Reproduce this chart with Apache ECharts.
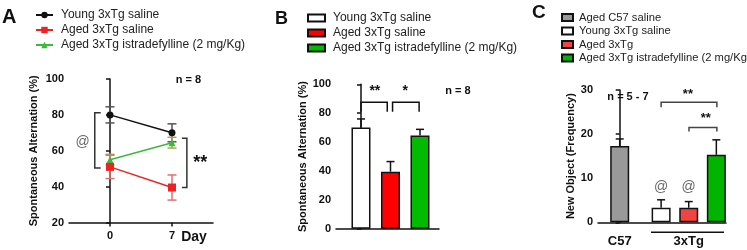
<!DOCTYPE html>
<html>
<head>
<meta charset="utf-8">
<script src="https://cdn.jsdelivr.net/npm/echarts@6/dist/echarts.min.js"></script>
<style>
  html, body { margin: 0; padding: 0; background: #fff; }
  #chart { width: 747px; height: 250px; }
</style>
</head>
<body>
<div id="chart"></div>
<script>
// ---- panel A: Y-maze over days ----
const daysA = [0, 7]
const youngA = [80, 70]
const youngAErr = [4.5, 5]
const agedA = [51, 39.5]
const agedAErr = [6.5, 7]
const istraA = [55, 64.5]
const istraAErr = [3, 3]

// ---- panel B: Y-maze day 7 ----
const groupsB = ['Young 3xTg saline', 'Aged 3xTg saline', 'Aged 3xTg istradefylline (2 mg/Kg)']
const meansB = [70, 39.5, 64.5]
const errB = [6, 7, 4.3]

// ---- panel C: new object ----
const groupsC = ['Aged C57 saline', 'Young 3xTg saline', 'Aged 3xTg', 'Aged 3xTg istradefylline (2 mg/Kg)']
const posC = [0, 1.5, 2.5, 3.5]
const meansC = [17.3, 3.3, 3.3, 15.3]
const errC = [1.6, 1.8, 1.4, 3.4]
const tickLabelsC = ['C57', '3xTg']

// significance brackets, in data units
// A: [x, yFrom, yTo, tickLen]
const bracketsA = [[-1.72, 50.4, 81.2, 0.67], [8.68, 39.5, 66.9, -0.56]]
// B / C: [xFrom, xTo, yTop, legLen]
const bracketsB = [[0, 0.89, 87.5, 6.5], [1.07, 1.97, 87.5, 6.5]]
const bracketsC = [[1.5, 3.52, 27.2, 1.1], [2.51, 3.52, 21.5, 0.9]]
// annotation marks: [x, y] + text
const marksA = [[-3.1, 64.8], [10.2, 53]]
const marksAText = ['@', '**']
const marksB = [[0.47, 95], [1.5, 95]]
const marksBText = ['**', '*']
const marksC = [[2.47, 29.1], [3.12, 23.5], [1.5, 7.9], [2.5, 7.9]]
const marksCText = ['**', '**', '@', '@']

const FONT = 'Arial, "Liberation Sans", sans-serif'
const INK = '#111'

const legendNames = {
  aY: 'Young 3xTg saline', aA: 'Aged 3xTg saline', aI: 'Aged 3xTg istradefylline (2 mg/Kg)',
  b0: groupsB[0], b1: groupsB[1], b2: groupsB[2],
  c0: groupsC[0], c1: groupsC[1], c2: groupsC[2], c3: groupsC[3]
}

const chart = echarts.init(document.getElementById('chart'), null, { renderer: 'canvas' })

// 误差线
function errRender(vals, errs, xs, upOnly, color, cap) {
  return (params, api) => {
    const i = params.dataIndex
    const x = xs[i]
    const top = api.coord([x, vals[i] + errs[i]])
    const bot = api.coord([x, upOnly ? vals[i] : vals[i] - errs[i]])
    const st = { stroke: color, lineWidth: 1.5 }
    const children = [
      { type: 'line', shape: { x1: top[0], y1: top[1], x2: bot[0], y2: bot[1] }, style: st },
      { type: 'line', shape: { x1: top[0] - cap, y1: top[1], x2: top[0] + cap, y2: top[1] }, style: st }
    ]
    if (!upOnly) {
      children.push({ type: 'line', shape: { x1: bot[0] - cap, y1: bot[1], x2: bot[0] + cap, y2: bot[1] }, style: st })
    }
    return { type: 'group', children }
  }
}

function errSeries(name, gi, vals, errs, xs, upOnly, color, cap, z) {
  return {
    type: 'custom', name, xAxisIndex: gi, yAxisIndex: gi, z,
    data: vals.map((v, i) => [xs[i], v]),
    renderItem: errRender(vals, errs, xs, upOnly, color, cap),
    silent: true
  }
}

function vBracketSeries(gi, list, color) {
  return {
    type: 'custom', xAxisIndex: gi, yAxisIndex: gi, z: 5, silent: true,
    data: list.map(b => [b[0], b[1]]),
    renderItem: (params, api) => {
      const b = list[params.dataIndex]
      const p0 = api.coord([b[0], b[1]])
      const p1 = api.coord([b[0], b[2]])
      const t = api.coord([b[0] + b[3], b[1]])[0]
      const st = { stroke: color, lineWidth: 1.5, fill: null }
      return {
        type: 'polyline',
        shape: { points: [[t, p0[1]], [p0[0], p0[1]], [p1[0], p1[1]], [t, p1[1]]] },
        style: st
      }
    }
  }
}

function hBracketSeries(gi, list, color) {
  return {
    type: 'custom', xAxisIndex: gi, yAxisIndex: gi, z: 5, silent: true,
    data: list.map(b => [b[0], b[2]]),
    renderItem: (params, api) => {
      const b = list[params.dataIndex]
      const p0 = api.coord([b[0], b[2]])
      const p1 = api.coord([b[1], b[2]])
      const yl = api.coord([b[0], b[2] - b[3]])[1]
      return {
        type: 'polyline',
        shape: { points: [[p0[0], yl], [p0[0], p0[1]], [p1[0], p1[1]], [p1[0], yl]] },
        style: { stroke: color, lineWidth: 1.5, fill: null }
      }
    }
  }
}

function markSeries(gi, list, texts, starSize) {
  return {
    type: 'custom', xAxisIndex: gi, yAxisIndex: gi, z: 6, silent: true,
    data: list,
    renderItem: (params, api) => {
      const p = api.coord(list[params.dataIndex])
      const txt = texts[params.dataIndex]
      const isAt = txt === '@'
      return {
        type: 'text', x: p[0], y: p[1],
        style: {
          text: txt, align: 'center', verticalAlign: 'middle',
          font: (isAt ? 'normal 14px ' : 'bold ' + starSize + 'px ') + FONT,
          fill: isAt ? '#666' : INK
        }
      }
    }
  }
}

const yAxisBase = (gi, min, max, interval, name, gap) => ({
  type: 'value', gridIndex: gi, min, max, interval,
  name, nameLocation: 'middle', nameGap: gap,
  nameTextStyle: { fontFamily: FONT, fontWeight: 'bold', fontSize: 11, color: INK },
  axisLine: { show: true, lineStyle: { color: INK, width: 1.5 } },
  axisTick: { show: true, length: 4, lineStyle: { color: INK, width: 1.5 } },
  axisLabel: { fontFamily: FONT, fontWeight: 'bold', fontSize: 11, color: INK, margin: 5 },
  splitLine: { show: false }
})

const option = {
  backgroundColor: '#fff',
  animation: false,
  textStyle: { fontFamily: FONT },
  grid: [
    { left: 69, top: 79, width: 144, height: 143.5 },
    { left: 336, top: 84.3, width: 103, height: 144.4 },
    { left: 598, top: 90, width: 128, height: 132.3 }
  ],
  xAxis: [
    {
      type: 'value', gridIndex: 0, min: -4.63, max: 11.63,
      axisLine: { lineStyle: { color: INK, width: 1.5 } },
      axisTick: { show: true, customValues: daysA, length: 4, lineStyle: { color: INK, width: 1.5 } },
      axisLabel: { customValues: daysA, fontFamily: FONT, fontWeight: 'bold', fontSize: 11, color: INK, margin: 8 },
      splitLine: { show: false }
    },
    {
      type: 'value', gridIndex: 1, min: -0.847, max: 2.644,
      axisLine: { lineStyle: { color: INK, width: 1.5 } },
      axisTick: { show: false }, axisLabel: { show: false }, splitLine: { show: false }
    },
    {
      type: 'value', gridIndex: 2, min: -0.786, max: 3.85,
      axisLine: { lineStyle: { color: INK, width: 1.5 } },
      axisTick: { show: false },
      axisLabel: {
        customValues: [0, 2.5],
        formatter: (v) => (v === 0 ? tickLabelsC[0] : tickLabelsC[1]),
        fontFamily: FONT, fontWeight: 'bold', fontSize: 13, color: INK, margin: 13
      },
      splitLine: { show: false }
    }
  ],
  yAxis: [
    yAxisBase(0, 20, 100, 20, 'Spontaneous Alternation (%)', 30),
    yAxisBase(1, 0, 100, 20, 'Spontaneous Alternation (%)', 23),
    yAxisBase(2, 0, 30, 10, 'New Object (Frequency)', 21.5)
  ],
  legend: [
    {
      left: 35, top: 8, orient: 'vertical', padding: 0, itemGap: 1,
      itemWidth: 17, itemHeight: 8,
      data: ['aY', 'aA', 'aI'],
      formatter: (n) => legendNames[n],
      textStyle: { fontFamily: FONT, fontSize: 12, color: '#222', lineHeight: 14, padding: [0, 0, 0, 3] },
      selectedMode: false
    },
    {
      left: 307, top: 11, orient: 'vertical', padding: 0, itemGap: 1,
      itemWidth: 17, itemHeight: 7, icon: 'rect',
      data: ['b0', 'b1', 'b2'],
      formatter: (n) => legendNames[n],
      textStyle: { fontFamily: FONT, fontSize: 12, color: '#222', lineHeight: 14, padding: [0, 0, 0, 3] },
      selectedMode: false
    },
    {
      left: 561, top: 11, orient: 'vertical', padding: 0, itemGap: 0.5,
      itemWidth: 11, itemHeight: 7, icon: 'rect',
      data: ['c0', 'c1', 'c2', 'c3'],
      formatter: (n) => legendNames[n],
      textStyle: { fontFamily: FONT, fontSize: 11.2, color: '#222', lineHeight: 13, padding: [0, 0, 0, 1] },
      selectedMode: false
    }
  ],
  series: [
    // panel A error bars (behind lines)
    errSeries('eY', 0, youngA, youngAErr, daysA, false, '#555', 4.5, 1),
    errSeries('eI', 0, istraA, istraAErr, daysA, false, '#a8a848', 4.5, 1),
    errSeries('eA', 0, agedA, agedAErr, daysA, false, '#e07070', 4.5, 1),
    {
      type: 'line', name: 'aY', xAxisIndex: 0, yAxisIndex: 0, z: 3,
      data: daysA.map((d, i) => [d, youngA[i]]),
      symbol: 'circle', symbolSize: 7,
      itemStyle: { color: '#111' }, lineStyle: { color: '#111', width: 1.5 }
    },
    {
      type: 'line', name: 'aI', xAxisIndex: 0, yAxisIndex: 0, z: 3,
      data: daysA.map((d, i) => [d, istraA[i]]),
      symbol: 'triangle', symbolSize: 7,
      itemStyle: { color: '#3cb83c' }, lineStyle: { color: '#3cb83c', width: 1.5 }
    },
    {
      type: 'line', name: 'aA', xAxisIndex: 0, yAxisIndex: 0, z: 4,
      data: daysA.map((d, i) => [d, agedA[i]]),
      symbol: 'rect', symbolSize: 8,
      itemStyle: { color: '#ee2222' }, lineStyle: { color: '#ee2222', width: 1.5 }
    },
    vBracketSeries(0, bracketsA, '#333'),
    markSeries(0, marksA, marksAText, 18),

    // panel B bars
    ...meansB.map((m, i) => ({
      type: 'bar', name: 'b' + i, xAxisIndex: 1, yAxisIndex: 1, barWidth: 19, barGap: '-100%', z: 2,
      data: [[i, m]],
      itemStyle: { color: ['#ffffff', '#ff0000', '#00bb00'][i], borderColor: INK, borderWidth: 1.5 }
    })),
    errSeries('eB', 1, meansB, errB, [0, 1, 2], true, INK, 4, 3),
    hBracketSeries(1, bracketsB, INK),
    markSeries(1, marksB, marksBText, 14),

    // panel C bars
    ...meansC.map((m, i) => ({
      type: 'bar', name: 'c' + i, xAxisIndex: 2, yAxisIndex: 2, barWidth: 19, barGap: '-100%', z: 2,
      data: [[posC[i], m]],
      itemStyle: { color: ['#999999', '#ffffff', '#f04444', '#00b400'][i], borderColor: INK, borderWidth: 1.5 }
    })),
    errSeries('eC', 2, meansC, errC, posC, true, INK, 4, 3),
    hBracketSeries(2, bracketsC, '#444'),
    markSeries(2, marksC, marksCText, 13)
  ],
  graphic: [
    { type: 'text', left: 2, top: 7, style: { text: 'A', font: 'bold 20px ' + FONT, fill: INK } },
    { type: 'text', left: 275, top: 10, style: { text: 'B', font: 'bold 18px ' + FONT, fill: INK } },
    { type: 'text', left: 532, top: 3, style: { text: 'C', font: 'bold 19px ' + FONT, fill: INK } },
    { type: 'text', x: 188.5, y: 80, style: { text: 'n = 8', font: 'bold 11px ' + FONT, fill: INK, align: 'center', verticalAlign: 'middle' } },
    { type: 'text', x: 458, y: 91, style: { text: 'n = 8', font: 'bold 11px ' + FONT, fill: INK, align: 'center', verticalAlign: 'middle' } },
    { type: 'text', x: 628, y: 97, style: { text: 'n = 5 - 7', font: 'bold 11px ' + FONT, fill: INK, align: 'center', verticalAlign: 'middle' } },
    { type: 'text', x: 194, y: 237, style: { text: 'Day', font: 'bold 14px ' + FONT, fill: INK, align: 'center', verticalAlign: 'middle' } },
    { type: 'line', shape: { x1: 651, y1: 232.3, x2: 724, y2: 232.3 }, style: { stroke: INK, lineWidth: 1.5 } }
  ]
}

chart.setOption(option)
</script>
</body>
</html>
